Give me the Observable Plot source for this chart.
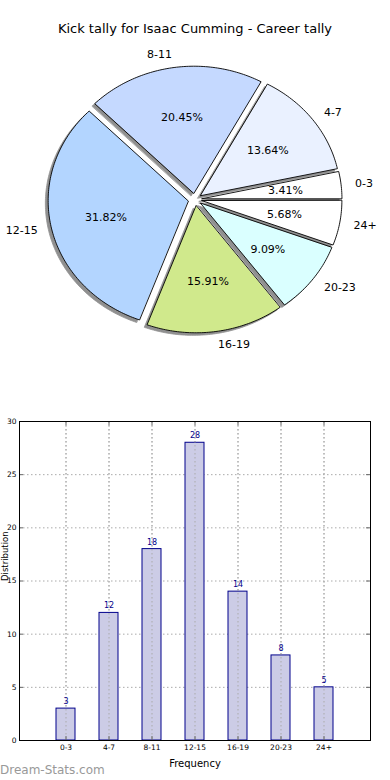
<!DOCTYPE html>
<html>
<head>
<meta charset="utf-8">
<script src="https://cdn.jsdelivr.net/npm/d3@7"></script>
<script src="https://cdn.jsdelivr.net/npm/@observablehq/plot@0.6"></script>
<style>
  body { margin: 0; background: #fff; width: 390px; height: 780px; position: relative; overflow: hidden; font-family: "DejaVu Sans", sans-serif; }
  #title { position: absolute; top: 21px; left: 0; width: 390px; text-align: center; font-size: 13px; color: #000; }
  #pie { position: absolute; top: 0; left: 0; }
  #bar { position: absolute; top: 410px; left: 0; }
  #wm { position: absolute; left: 0; top: 763px; font-size: 12px; color: #999; }
</style>
</head>
<body>
<div id="title">Kick tally for Isaac Cumming - Career tally</div>
<div id="pie"></div>
<div id="bar"></div>
<div id="wm">Dream-Stats.com</div>
<script>
const categories = ["0-3", "4-7", "8-11", "12-15", "16-19", "20-23", "24+"];
const counts = [3, 12, 18, 28, 14, 8, 5];
const pieColors = ["#ffffff", "#eaf1ff", "#c5d9ff", "#b3d5ff", "#d0e98c", "#daffff", "#ffffff"];
const yTicks = [0, 5, 10, 15, 20, 25, 30];
const explode = 0.05;

// ---------- Pie ----------
const total = d3.sum(counts);
let acc = 0;
const slices = categories.map((c, i) => {
  const a0 = acc / total * 2 * Math.PI;
  acc += counts[i];
  const a1 = acc / total * 2 * Math.PI;
  const mid = (a0 + a1) / 2;
  const ox = explode * Math.cos(mid), oy = explode * Math.sin(mid);
  const pts = [[ox, oy]];
  const n = Math.max(4, Math.ceil((a1 - a0) / (Math.PI / 180)));
  for (let k = 0; k <= n; k++) {
    const t = a0 + (a1 - a0) * k / n;
    pts.push([ox + Math.cos(t), oy + Math.sin(t)]);
  }
  return {
    cat: c, value: counts[i], color: pieColors[i], pts, mid, ox, oy,
    lx: ox + 1.1 * Math.cos(mid), ly: oy + 1.1 * Math.sin(mid),
    px: ox + 0.6 * Math.cos(mid), py: oy + 0.6 * Math.sin(mid),
    pct: (counts[i] / total * 100).toFixed(2) + "%"
  };
});

const W = 390, H = 380, cx = 194.5, cy = 199, rx = 140, ry = 127;
const sh = 0.02;
const pieMarks = [];
slices.forEach(s => {
  pieMarks.push(Plot.line(s.pts.map(p => ({x: p[0] - sh, y: p[1] - sh})),
    {x: "x", y: "y", curve: "linear-closed", fill: "#909090", stroke: "#909090", strokeWidth: 0.8}));
});
slices.forEach(s => {
  pieMarks.push(Plot.line(s.pts.map(p => ({x: p[0], y: p[1]})),
    {x: "x", y: "y", curve: "linear-closed", fill: s.color, stroke: "#000", strokeWidth: 0.9, strokeLinejoin: "miter"}));
});
pieMarks.push(Plot.text(slices.filter(s => s.lx >= 0), {x: "lx", y: "ly", text: "cat", textAnchor: "start", fontSize: 11, fill: "#000"}));
pieMarks.push(Plot.text(slices.filter(s => s.lx < 0), {x: "lx", y: "ly", text: "cat", textAnchor: "end", fontSize: 11, fill: "#000"}));
pieMarks.push(Plot.text(slices, {x: "px", y: "py", text: "pct", fontSize: 11, fill: "#000"}));

const pie = Plot.plot({
  width: W, height: H,
  margin: 0,
  style: {fontFamily: "DejaVu Sans, sans-serif", background: "transparent"},
  x: {domain: [-cx / rx, (W - cx) / rx], range: [0, W], axis: null},
  y: {domain: [(cy - H) / ry, cy / ry], range: [H, 0], axis: null},
  marks: pieMarks
});
document.getElementById("pie").append(pie);

// ---------- Bar ----------
const barData = categories.map((c, i) => ({cat: c, value: counts[i]}));
const grid = {stroke: "#aaa", strokeOpacity: 1, strokeDasharray: "1.5,2.5", strokeWidth: 1};
const bar = Plot.plot({
  width: 390, height: 370,
  marginLeft: 19, marginRight: 20, marginTop: 11, marginBottom: 40,
  style: {fontFamily: "DejaVu Sans, sans-serif", fontSize: "7.5px", background: "transparent"},
  x: {domain: categories, paddingInner: 0.55, paddingOuter: 0.775, label: null, tickSize: 0, tickPadding: 4},
  y: {domain: [0, 30], ticks: yTicks, label: null, tickSize: 0, tickPadding: 3},
  marks: [
    Plot.gridY(yTicks.slice(1, -1), grid),
    Plot.gridX(categories, grid),
    Plot.barY(barData, {x: "cat", y: "value", fill: "#ccccE6", stroke: "#00008b", strokeWidth: 1}),
    Plot.gridX(categories, grid),
    Plot.ruleX(categories, {stroke: "#666", insetBottom: 315}),
    Plot.ruleX(categories, {stroke: "#666", insetTop: 315}),
    Plot.ruleY(yTicks, {stroke: "#666", insetRight: 347}),
    Plot.ruleY(yTicks, {stroke: "#666", insetLeft: 347}),
    Plot.text(barData, {x: "cat", y: "value", text: d => String(d.value), dy: -7, fill: "#00008b", fontSize: 8}),
    Plot.frame({stroke: "#000", strokeWidth: 1}),
    Plot.text(["Frequency"], {frameAnchor: "bottom", dy: 26, fontSize: 10, fill: "#000"}),
    Plot.text(["Distribution"], {frameAnchor: "left", dx: -14, rotate: -90, fontSize: 8.5, fill: "#000"})
  ]
});
document.getElementById("bar").append(bar);
</script>
</body>
</html>
